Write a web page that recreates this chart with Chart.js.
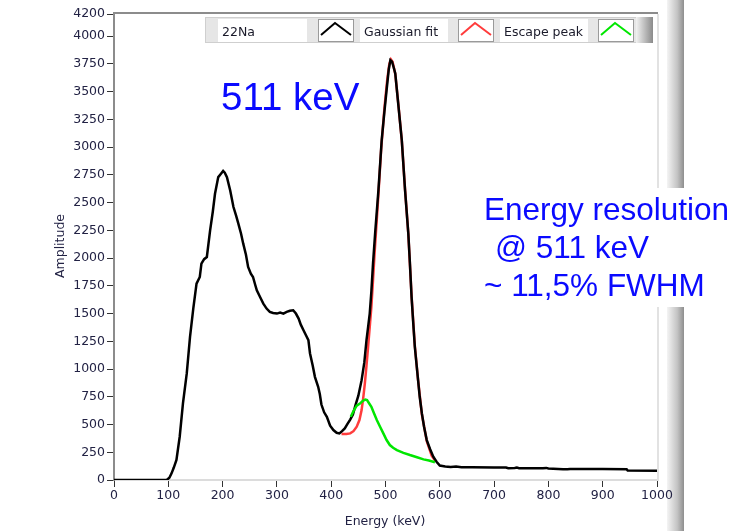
<!DOCTYPE html>
<html>
<head>
<meta charset="utf-8">
<script src="https://cdn.jsdelivr.net/npm/chart.js@4.4.1/dist/chart.umd.min.js"></script>
<style>
  html, body { margin: 0; padding: 0; background: #fff; }
  #wrap { width: 736px; height: 531px; position: relative; }
</style>
</head>
<body>
<div id="wrap"><canvas id="spectrum" width="736" height="531"></canvas></div>
<script>
/* 22Na spectrum (energy keV / amplitude) */
const naEnergy = [0, 50, 97, 102, 106, 110, 115, 121, 127, 134, 140, 146, 152, 158, 161, 166, 171, 177, 182, 186, 192, 197, 201, 204, 208, 214, 220, 225, 229, 234, 238, 243, 247, 252, 256, 260, 263, 269, 275, 281, 287, 293, 300, 306, 312, 318, 324, 330, 335, 340, 344, 349, 354, 358, 361, 366, 370, 376, 379, 382, 387, 392, 398, 404, 410, 415, 420, 425, 430, 435, 440, 445, 450, 456, 461, 465, 468, 471, 474, 477, 481, 487, 493, 498, 502, 506, 509, 512, 515, 518, 524, 530, 536, 542, 545, 548, 551, 554, 557, 560, 563, 567, 571, 576, 582, 588, 594, 600, 610, 620, 630, 640, 660, 700, 722, 726, 738, 742, 746, 790, 796, 800, 827, 835, 840, 870, 900, 944, 946, 1000];
const naAmp = [0, 0, 0, 20, 60, 110, 180, 390, 690, 960, 1290, 1545, 1770, 1830, 1950, 1990, 2010, 2250, 2420, 2580, 2730, 2760, 2785, 2770, 2730, 2610, 2460, 2380, 2310, 2220, 2130, 2030, 1920, 1860, 1830, 1760, 1710, 1650, 1590, 1545, 1515, 1505, 1500, 1510, 1500, 1515, 1525, 1530, 1500, 1455, 1400, 1350, 1300, 1260, 1140, 1030, 930, 840, 775, 680, 610, 570, 490, 450, 426, 420, 440, 465, 505, 545, 590, 680, 760, 900, 1060, 1261, 1380, 1502, 1700, 1950, 2230, 2613, 3063, 3320, 3514, 3700, 3784, 3770, 3720, 3664, 3363, 3063, 2613, 2222, 1950, 1651, 1420, 1201, 1050, 900, 750, 600, 480, 360, 280, 210, 165, 130, 122, 118, 121, 116, 114, 113, 112, 106, 108, 112, 107, 106, 109, 104, 97, 96, 100, 99, 99, 98, 85, 84];

/* Gaussian fit */
const fitEnergy = [419, 428, 435, 441, 447, 452, 456, 459, 462, 465, 468, 471, 474, 477, 480, 486, 492, 498, 503, 507, 510, 513, 518, 524, 530, 536, 542, 548, 554, 560, 567, 576, 585, 592];
const fitAmp = [414, 414, 420, 440, 480, 540, 630, 740, 871, 1030, 1201, 1380, 1561, 1800, 2050, 2500, 2980, 3350, 3600, 3750, 3790, 3770, 3660, 3370, 3060, 2620, 2220, 1660, 1210, 900, 590, 350, 220, 170];

/* Escape peak */
const escEnergy = [436, 441, 447, 453, 459, 463, 466, 470, 474, 479, 484, 490, 496, 502, 508, 514, 521, 533, 545, 558, 570, 580, 591];
const escAmp = [570, 620, 670, 690, 715, 725, 720, 690, 660, 600, 540, 480, 420, 360, 315, 290, 270, 245, 225, 205, 186, 175, 160];

const yTicks = [0, 250, 500, 750, 1000, 1250, 1500, 1750, 2000, 2250, 2500, 2750, 3000, 3250, 3500, 3750, 4000, 4200];
const legendNames = ["22Na", "Gaussian fit", "Escape peak"];

const BLACK = "#000000", RED = "#ff3c3c", GREEN = "#00e600", BLUE = "#0a0aff";
const FONT = "'DejaVu Sans', sans-serif";
const NOTE_FONT = "'Liberation Sans', Arial, sans-serif";

function zip(xs, ys) { return xs.map(function (x, i) { return { x: x, y: ys[i] }; }); }
function plain(v) { return String(v); }

/* chrome: side bar behind, frame + legend + notes on top */
const overlay = {
  id: "overlay",
  beforeDraw(chart) {
    const ctx = chart.ctx;
    ctx.save();
    ctx.fillStyle = "#fff";
    ctx.fillRect(0, 0, chart.width, chart.height);
    const barGrad = ctx.createLinearGradient(667, 0, 684, 0);
    barGrad.addColorStop(0, "#f4f4f4");
    barGrad.addColorStop(0.6, "#c4c4c4");
    barGrad.addColorStop(1, "#8e8e8e");
    ctx.fillStyle = barGrad;
    ctx.fillRect(667, 0, 17, chart.height);
    ctx.restore();
  },
  afterDraw(chart) {
    const ctx = chart.ctx;
    const a = chart.chartArea;
    ctx.save();

    // frame top / right
    ctx.lineWidth = 2;
    ctx.strokeStyle = "#8c8c8c";
    ctx.beginPath(); ctx.moveTo(a.left - 1, a.top - 1); ctx.lineTo(a.right + 1, a.top - 1); ctx.stroke();
    ctx.strokeStyle = "#e2e2e2";
    ctx.beginPath(); ctx.moveTo(a.right + 1, a.top); ctx.lineTo(a.right + 1, a.bottom + 1); ctx.stroke();

    // axis titles
    ctx.fillStyle = "#222244";
    ctx.font = "12.5px " + FONT;
    ctx.textAlign = "center";
    ctx.textBaseline = "alphabetic";
    ctx.fillText("Energy (keV)", 385, 525);
    ctx.save();
    ctx.translate(64, 246);
    ctx.rotate(-Math.PI / 2);
    ctx.fillText("Amplitude", 0, 0);
    ctx.restore();

    // legend strip
    const top = 17, bot = 43;
    ctx.fillStyle = "#e6e6e6";
    ctx.fillRect(205, top, 448, bot - top);
    ctx.strokeStyle = "#cfcfcf"; ctx.lineWidth = 1;
    ctx.strokeRect(205.5, top + 0.5, 447, bot - top - 1);
    const endGrad = ctx.createLinearGradient(636, 0, 653, 0);
    endGrad.addColorStop(0, "#f2f2f2");
    endGrad.addColorStop(1, "#8a8a8a");
    ctx.fillStyle = endGrad;
    ctx.fillRect(636, top, 17, bot - top);

    const cells = [
      { tx: 218, tw: 89, ix: 318, col: BLACK, name: legendNames[0] },
      { tx: 360, tw: 88, ix: 458, col: RED, name: legendNames[1] },
      { tx: 500, tw: 88, ix: 598, col: GREEN, name: legendNames[2] }
    ];
    ctx.font = "12.5px " + FONT;
    ctx.textAlign = "left";
    cells.forEach(function (c) {
      ctx.fillStyle = "#fff";
      ctx.fillRect(c.tx, 19, c.tw, 23);
      ctx.fillStyle = "#1a1a2a";
      ctx.fillText(c.name, c.tx + 4, 36);
      ctx.fillStyle = "#fff";
      ctx.fillRect(c.ix, 19, 36, 23);
      ctx.strokeStyle = "#9a9a9a"; ctx.lineWidth = 1;
      ctx.strokeRect(c.ix + 0.5, 19.5, 35, 22);
      ctx.strokeStyle = c.col; ctx.lineWidth = 2;
      ctx.beginPath();
      ctx.moveTo(c.ix + 3, 35); ctx.lineTo(c.ix + 17, 23); ctx.lineTo(c.ix + 33, 35);
      ctx.stroke();
    });

    // white box behind the resolution note
    ctx.fillStyle = "#fff";
    ctx.fillRect(478, 188, 258, 119);

    // annotations
    ctx.fillStyle = BLUE;
    ctx.font = "38.5px " + NOTE_FONT;
    ctx.fillText("511 keV", 221, 110);
    ctx.font = "31.5px " + NOTE_FONT;
    ctx.fillText("Energy resolution", 484, 220);
    ctx.fillText("@ 511 keV", 495, 258);
    ctx.fillText("~ 11,5% FWHM", 484, 296);

    ctx.restore();
  }
};

new Chart(document.getElementById("spectrum"), {
  type: "line",
  data: {
    datasets: [
      { label: "Escape peak", data: zip(escEnergy, escAmp), borderColor: GREEN, order: 0 },
      { label: "22Na", data: zip(naEnergy, naAmp), borderColor: BLACK, order: 1 },
      { label: "Gaussian fit", data: zip(fitEnergy, fitAmp), borderColor: RED, order: 2 }
    ]
  },
  options: {
    responsive: false,
    animation: false,
    devicePixelRatio: 1,
    elements: {
      line: { borderWidth: 2.5, tension: 0, fill: false },
      point: { radius: 0, hoverRadius: 0 }
    },
    layout: { padding: { left: 0, top: 14, right: 79, bottom: 0 } },
    plugins: { legend: { display: false }, tooltip: { enabled: false } },
    scales: {
      x: {
        type: "linear",
        min: 0, max: 1000,
        ticks: { stepSize: 100, color: "#222244", font: { family: FONT, size: 12.5 }, padding: 1, maxRotation: 0, callback: plain },
        grid: { drawOnChartArea: false, drawTicks: true, tickLength: 7, color: "#333", lineWidth: 1 },
        border: { color: "#dcdcdc", width: 2 },
        afterFit: function (s) { s.height = 51; }
      },
      y: {
        type: "linear",
        min: 0, max: 4200,
        afterBuildTicks: function (s) { s.ticks = yTicks.map(function (v) { return { value: v }; }); },
        ticks: { color: "#222244", font: { family: FONT, size: 12.5 }, padding: 2, callback: plain },
        grid: { drawOnChartArea: false, drawTicks: true, tickLength: 7, color: "#333", lineWidth: 1 },
        border: { color: "#8c8c8c", width: 2 },
        afterFit: function (s) { s.width = 114; }
      }
    }
  },
  plugins: [overlay]
});
</script>
</body>
</html>
